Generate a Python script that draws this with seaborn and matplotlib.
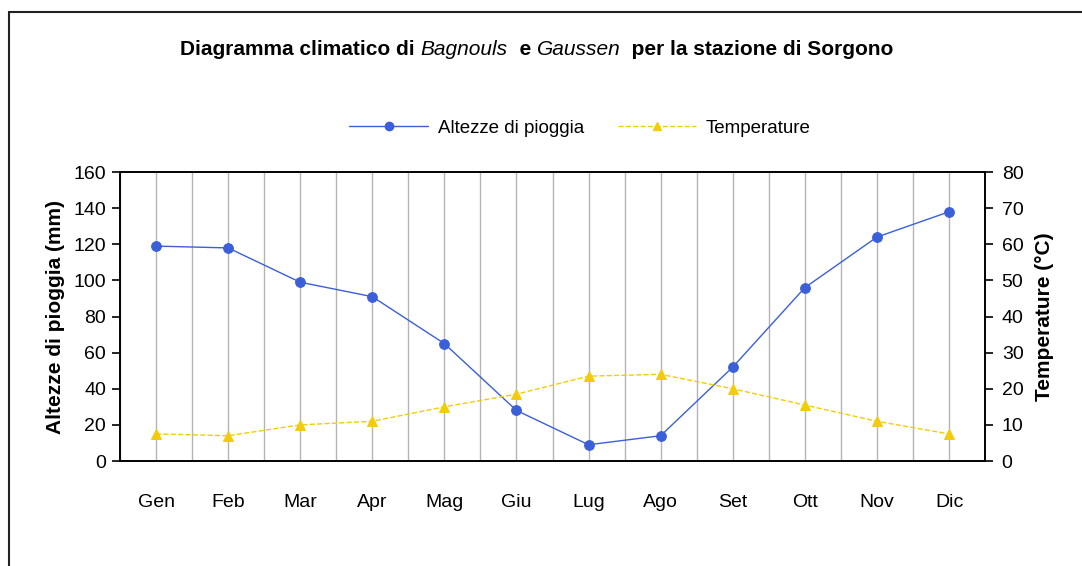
import numpy as np
import pandas as pd
import matplotlib
matplotlib.use('Agg')
import matplotlib.pyplot as plt
from matplotlib.lines import Line2D
from matplotlib.patches import Rectangle
from matplotlib.ticker import MultipleLocator
import seaborn as sns

# data
mesi = ['Gen', 'Feb', 'Mar', 'Apr', 'Mag', 'Giu', 'Lug', 'Ago', 'Set', 'Ott', 'Nov', 'Dic']
pioggia = [119, 118, 99, 91, 65, 28, 9, 14, 52, 96, 124, 138]
temperature = [7.5, 7, 10, 11, 15, 18.5, 23.5, 24, 20, 15.5, 11, 7.5]

df = pd.DataFrame({'mese': np.arange(len(mesi)), 'pioggia': pioggia, 'temp': temperature})

sns.set_style('white')
plt.rcParams['font.family'] = ['Liberation Sans', 'DejaVu Sans']
plt.rcParams.update({'text.color': 'black', 'axes.labelcolor': 'black',
                     'xtick.color': 'black', 'ytick.color': 'black'})

blu = '#3b5fd8'
giallo = '#f2cc0c'

fig = plt.figure(figsize=(10.82, 5.66), dpi=100)
ax = fig.add_axes([0.1109, 0.1855, 0.7995, 0.5105])
ax2 = ax.twinx()

# outer frame (only top/left visible in the original crop)
fig.patches.append(Rectangle((9 / 1082, -0.1), 1.2, 1 - 12 / 566 + 0.1, transform=fig.transFigure,
                             fill=False, edgecolor='#222222', linewidth=1.5))

sns.lineplot(data=df, x='mese', y='pioggia', ax=ax, color=blu, marker='o', markersize=7,
             markeredgecolor=blu, linewidth=1, zorder=3)
sns.lineplot(data=df, x='mese', y='temp', ax=ax2, color=giallo, marker='^', markersize=7,
             markeredgecolor=giallo, linewidth=1, linestyle='--', zorder=3)

ax.set_xlim(-0.5, len(mesi) - 0.5)
ax.set_ylim(0, 160)
ax2.set_ylim(0, 80)
ax.yaxis.set_major_locator(MultipleLocator(20))
ax2.yaxis.set_major_locator(MultipleLocator(10))

# ticks at category boundaries, labels at centres
ax.set_xticks(np.arange(-0.5, len(mesi), 1))
ax.set_xticklabels([])
ax.set_xticks(np.arange(len(mesi)), minor=True)
ax.set_xticklabels(mesi, minor=True)
ax.tick_params(axis='x', which='major', length=6, width=1.2, direction='out')
ax.tick_params(axis='x', which='minor', length=0, pad=24, labelsize=14)
ax.tick_params(axis='y', length=6, width=1.2, direction='out', labelsize=14, pad=4)
ax2.tick_params(axis='y', length=6, width=1.2, direction='out', labelsize=14, pad=6)

# vertical grid at centres and boundaries
for xv in np.arange(-0.5, len(mesi), 0.5):
    ax.axvline(xv, color='#b4b4b4', linewidth=1, zorder=1)

for a in (ax, ax2):
    for s in a.spines.values():
        s.set_color('black')
        s.set_linewidth(1.2)
ax2.patch.set_visible(False)

ax.set_xlabel('')
ax.set_ylabel('Altezze di pioggia (mm)', fontsize=15, fontweight='bold', labelpad=6)
ax2.set_ylabel('Temperature (°C)', fontsize=15, fontweight='bold', labelpad=8)

# title with italic names, pieces chained one after the other
pezzi = [('Diagramma climatico di ', 'bold', 'normal'), ('Bagnouls', 'normal', 'italic'),
         ('  e ', 'bold', 'normal'), ('Gaussen', 'normal', 'italic'),
         ('  per la stazione di Sorgono', 'bold', 'normal')]
prev = fig.text(180 / 1082, 1 - 55 / 566, pezzi[0][0], fontsize=15, fontweight=pezzi[0][1],
                fontstyle=pezzi[0][2], va='baseline', ha='left')
for testo, peso, stile in pezzi[1:]:
    prev = ax.annotate(testo, xy=(1, 0), xycoords=prev, va='bottom', ha='left',
                       fontsize=15, fontweight=peso, fontstyle=stile, annotation_clip=False)

handles = [Line2D([], [], color=blu, marker='o', markersize=6, linewidth=1),
           Line2D([], [], color=giallo, marker='^', markersize=6, linewidth=1, linestyle='--')]
fig.legend(handles, ['Altezze di pioggia', 'Temperature'], loc='center', ncol=2, frameon=False,
           bbox_to_anchor=(580 / 1082, 1 - 128 / 566), fontsize=13.5, handlelength=4.2,
           columnspacing=1.8, handletextpad=0.5)

fig.savefig('out.png', dpi=100)
